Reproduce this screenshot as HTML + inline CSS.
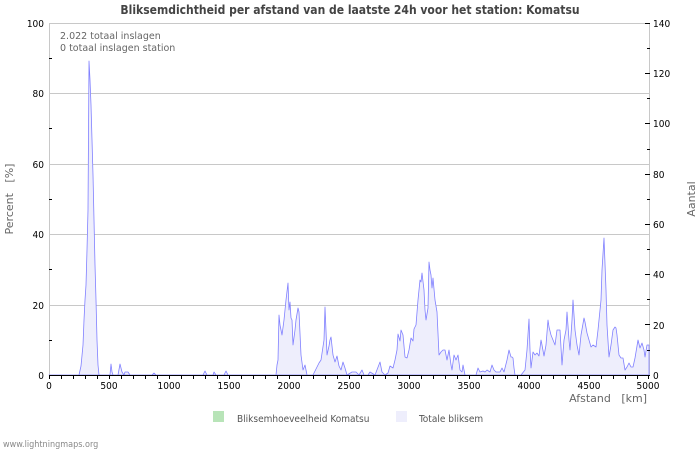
<!DOCTYPE html>
<html><head><meta charset="utf-8"><style>
body{margin:0;background:#fff;}
svg{display:block;font-family:"DejaVu Sans","Liberation Sans",sans-serif;}
.c{font-family:"DejaVu Sans Condensed","DejaVu Sans","Liberation Sans",sans-serif;font-stretch:condensed;}
</style></head><body>
<svg width="700" height="450" viewBox="0 0 700 450" xmlns="http://www.w3.org/2000/svg">
<rect width="700" height="450" fill="#fff"/>
<text class="c" x="350" y="14" text-anchor="middle" font-size="12" font-weight="bold" fill="#444">Bliksemdichtheid per afstand van de laatste 24h voor het station: Komatsu</text>
<g stroke="#c8c8c8" stroke-width="1">
<line x1="49" y1="23.5" x2="650" y2="23.5"/>
<line x1="49" y1="93.5" x2="650" y2="93.5"/>
<line x1="49" y1="164.5" x2="650" y2="164.5"/>
<line x1="49" y1="234.5" x2="650" y2="234.5"/>
<line x1="49" y1="305.5" x2="650" y2="305.5"/>
<line x1="49.5" y1="23" x2="49.5" y2="375"/>
<line x1="649.5" y1="23" x2="649.5" y2="375"/>
</g>
<polygon fill="#eeeefc" stroke="#8080ff" stroke-width="0.8" stroke-linejoin="round" points="49,375 79,375 81,366 83,345 84,320 85,300 86,285 87,250 88,210 89,61 90,80 91,105 92,140 93,175 94,220 95,265 96,300 97,340 98,365 99,375 110,375 111,364 112,372 113,375 118,375 120,364 122,372 124,375 125,372 128,372 130,375 152,375 154,373 156,375 203,375 205,371 207,375 213,375 214,372 216,375 224,375 226,371 228,375 253,375 276,375 277,365 278,360 279,315 280,325 282,335 284,320 286,300 288,283 289,310 290,302 291,318 292,320 293,345 295,330 296,320 298,308 299,312 301,355 303,370 305,365 307,375 313,375 319,363 321,360 324,340 325,307 327,355 329,346 330,340 331,337 333,355 335,362 337,356 339,366 341,370 343,362 345,368 347,375 352,372 356,372 359,375 362,370 364,375 368,375 370,372 375,375 380,362 382,372 385,375 388,373 390,366 393,368 395,360 397,350 398,334 400,341 401,330 403,335 405,357 407,358 409,350 411,338 413,341 414,329 416,325 418,300 420,280 421,282 422,273 424,290 425,310 426,320 428,308 429,262 430,270 431,275 432,288 433,278 435,300 437,312 439,355 441,352 443,350 445,350 446,355 447,360 449,350 451,365 452,370 454,355 456,360 458,355 460,370 462,372 463,365 465,375 476,375 478,368 480,372 483,371 485,372 487,370 490,372 492,365 494,370 496,372 500,372 502,368 504,372 507,360 509,350 511,357 512,357 513,358 514,368 515,375 521,375 525,370 527,350 529,319 530,350 531,368 533,352 535,355 537,353 539,356 541,340 542,345 544,356 546,345 548,320 549,327 551,335 553,340 555,345 557,330 560,330 562,365 564,340 566,330 567,312 569,340 570,350 572,320 573,300 575,330 577,345 579,355 581,335 584,318 585,322 587,333 589,340 591,347 593,345 596,347 598,330 600,310 601,300 602,270 604,238 606,290 607,325 609,357 611,345 613,330 615,327 616,328 617,335 619,355 621,358 623,358 625,370 627,367 629,363 631,367 633,367 635,358 638,340 640,348 642,343 644,350 645,357 647,345 649,345 649,375"/>
<g stroke="#000" stroke-width="1">
<line x1="49" y1="375.5" x2="650" y2="375.5"/>
</g>
<g stroke="#000" stroke-width="1">
<line x1="49.5" y1="375" x2="49.5" y2="379"/><line x1="61.5" y1="375" x2="61.5" y2="379"/><line x1="73.5" y1="375" x2="73.5" y2="379"/><line x1="85.5" y1="375" x2="85.5" y2="379"/><line x1="97.5" y1="375" x2="97.5" y2="379"/>
<line x1="109.5" y1="375" x2="109.5" y2="379"/><line x1="121.5" y1="375" x2="121.5" y2="379"/><line x1="133.5" y1="375" x2="133.5" y2="379"/><line x1="145.5" y1="375" x2="145.5" y2="379"/><line x1="157.5" y1="375" x2="157.5" y2="379"/>
<line x1="169.5" y1="375" x2="169.5" y2="379"/><line x1="181.5" y1="375" x2="181.5" y2="379"/><line x1="193.5" y1="375" x2="193.5" y2="379"/><line x1="205.5" y1="375" x2="205.5" y2="379"/><line x1="217.5" y1="375" x2="217.5" y2="379"/>
<line x1="229.5" y1="375" x2="229.5" y2="379"/><line x1="241.5" y1="375" x2="241.5" y2="379"/><line x1="253.5" y1="375" x2="253.5" y2="379"/><line x1="265.5" y1="375" x2="265.5" y2="379"/><line x1="277.5" y1="375" x2="277.5" y2="379"/>
<line x1="289.5" y1="375" x2="289.5" y2="379"/><line x1="301.5" y1="375" x2="301.5" y2="379"/><line x1="313.5" y1="375" x2="313.5" y2="379"/><line x1="325.5" y1="375" x2="325.5" y2="379"/><line x1="337.5" y1="375" x2="337.5" y2="379"/>
<line x1="349.5" y1="375" x2="349.5" y2="379"/><line x1="361.5" y1="375" x2="361.5" y2="379"/><line x1="373.5" y1="375" x2="373.5" y2="379"/><line x1="385.5" y1="375" x2="385.5" y2="379"/><line x1="397.5" y1="375" x2="397.5" y2="379"/>
<line x1="409.5" y1="375" x2="409.5" y2="379"/><line x1="421.5" y1="375" x2="421.5" y2="379"/><line x1="433.5" y1="375" x2="433.5" y2="379"/><line x1="445.5" y1="375" x2="445.5" y2="379"/><line x1="457.5" y1="375" x2="457.5" y2="379"/>
<line x1="469.5" y1="375" x2="469.5" y2="379"/><line x1="481.5" y1="375" x2="481.5" y2="379"/><line x1="493.5" y1="375" x2="493.5" y2="379"/><line x1="505.5" y1="375" x2="505.5" y2="379"/><line x1="517.5" y1="375" x2="517.5" y2="379"/>
<line x1="529.5" y1="375" x2="529.5" y2="379"/><line x1="541.5" y1="375" x2="541.5" y2="379"/><line x1="553.5" y1="375" x2="553.5" y2="379"/><line x1="565.5" y1="375" x2="565.5" y2="379"/><line x1="577.5" y1="375" x2="577.5" y2="379"/>
<line x1="589.5" y1="375" x2="589.5" y2="379"/><line x1="601.5" y1="375" x2="601.5" y2="379"/><line x1="613.5" y1="375" x2="613.5" y2="379"/><line x1="625.5" y1="375" x2="625.5" y2="379"/><line x1="637.5" y1="375" x2="637.5" y2="379"/><line x1="648.5" y1="375" x2="648.5" y2="379"/>
</g>
<g stroke="#000" stroke-width="1">
<line x1="49" y1="340.5" x2="52" y2="340.5"/><line x1="49" y1="269.5" x2="52" y2="269.5"/><line x1="49" y1="199.5" x2="52" y2="199.5"/><line x1="49" y1="128.5" x2="52" y2="128.5"/><line x1="49" y1="58.5" x2="52" y2="58.5"/>
<line x1="645" y1="23.5" x2="650" y2="23.5"/><line x1="647" y1="48.5" x2="650" y2="48.5"/><line x1="645" y1="73.5" x2="650" y2="73.5"/><line x1="647" y1="98.5" x2="650" y2="98.5"/><line x1="645" y1="123.5" x2="650" y2="123.5"/><line x1="647" y1="149.5" x2="650" y2="149.5"/><line x1="645" y1="174.5" x2="650" y2="174.5"/><line x1="647" y1="199.5" x2="650" y2="199.5"/><line x1="645" y1="224.5" x2="650" y2="224.5"/><line x1="647" y1="249.5" x2="650" y2="249.5"/><line x1="645" y1="274.5" x2="650" y2="274.5"/><line x1="647" y1="299.5" x2="650" y2="299.5"/><line x1="645" y1="324.5" x2="650" y2="324.5"/><line x1="647" y1="350.5" x2="650" y2="350.5"/>
</g>
<g class="c" font-size="10" fill="#000" text-anchor="end">
<text x="44" y="379">0</text><text x="44" y="309">20</text><text x="44" y="238">40</text><text x="44" y="168">60</text><text x="44" y="97">80</text><text x="44" y="27">100</text>
</g>
<g class="c" font-size="10" fill="#000">
<text x="653" y="379">0</text><text x="653" y="329">20</text><text x="653" y="278">40</text><text x="653" y="228">60</text><text x="653" y="178">80</text><text x="653" y="127">100</text><text x="653" y="77">120</text><text x="653" y="27">140</text>
</g>
<g class="c" font-size="10" fill="#000" text-anchor="middle">
<text x="49" y="389">0</text><text x="109" y="389">500</text><text x="169" y="389">1000</text><text x="229" y="389">1500</text><text x="289" y="389">2000</text><text x="349" y="389">2500</text><text x="409" y="389">3000</text><text x="469" y="389">3500</text><text x="529" y="389">4000</text><text x="589" y="389">4500</text><text x="648" y="389">5000</text>
</g>
<text x="647" y="402" font-size="11" fill="#666" text-anchor="end" xml:space="preserve">Afstand   [km]</text>
<text x="13" y="199" font-size="11" fill="#666" text-anchor="middle" transform="rotate(-90 13 199)" xml:space="preserve">Percent   [%]</text>
<text x="695" y="199" font-size="11" fill="#666" text-anchor="middle" transform="rotate(-90 695 199)">Aantal</text>
<text x="60" y="39" font-size="9.5" fill="#666">2.022 totaal inslagen</text>
<text x="60" y="51" font-size="9.5" fill="#666">0 totaal inslagen station</text>
<rect x="213" y="411" width="11" height="11" fill="#b8e4b8"/>
<text class="c" x="237" y="422" font-size="10" fill="#555">Bliksemhoeveelheid Komatsu</text>
<rect x="396" y="411" width="11" height="11" fill="#eeeefc"/>
<text class="c" x="419" y="422" font-size="10" fill="#555">Totale bliksem</text>
<text class="c" x="3" y="447" font-size="9" fill="#888">www.lightningmaps.org</text>
</svg>
</body></html>
